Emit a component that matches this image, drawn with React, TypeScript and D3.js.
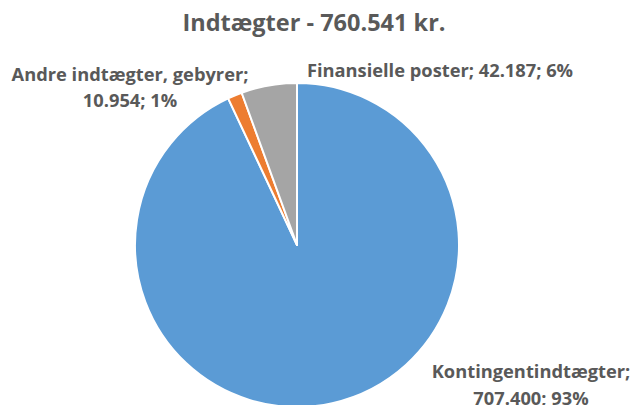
import React from "react";
import * as d3 from "d3";

const categories = ["Kontingentindtægter", "Andre indtægter, gebyrer", "Finansielle poster"];
const values = [707400, 10954, 42187];
const valueLabels = ["707.400", "10.954", "42.187"];
const percentLabels = ["93%", "1%", "6%"];
const colors = ["#5B9BD5", "#ED7D31", "#A5A5A5"];
const title = "Indtægter - 760.541 kr.";

const W = 633;
const H = 405;
const cx = 297;
const cy = 245;
const R = 162;

export default function App() {
  const pie = d3.pie<number>().sort(null).value((d) => d)(values);
  const arc = d3.arc<d3.PieArcDatum<number>>().innerRadius(0).outerRadius(R);
  const font = "'Open Sans', sans-serif";
  const txt = "#595959";
  return (
    <svg width={W} height={H} style={{ position: "absolute", left: 0, top: 0, background: "#fff" }}>
      <text x={314} y={31} textAnchor="middle" fontFamily={font} fontWeight={700} fontSize={23.5} fill={txt}>
        {title}
      </text>
      <g transform={`translate(${cx},${cy})`}>
        {pie.map((p, i) => (
          <path key={i} d={arc(p) || ""} fill={colors[i]} stroke="#fff" strokeWidth={2} strokeLinejoin="round" />
        ))}
      </g>
      <g fontFamily={font} fontWeight={700} fontSize={18.3} fill={txt} textAnchor="middle">
        <text x={130} y={81}>{categories[1] + ";"}</text>
        <text x={130} y={107}>{valueLabels[1] + "; " + percentLabels[1]}</text>
        <text x={440} y={77}>{categories[2] + "; " + valueLabels[2] + "; " + percentLabels[2]}</text>
        <text x={531} y={378}>{categories[0] + ";"}</text>
        <text x={531} y={405}>{valueLabels[0] + "; " + percentLabels[0]}</text>
      </g>
    </svg>
  );
}
